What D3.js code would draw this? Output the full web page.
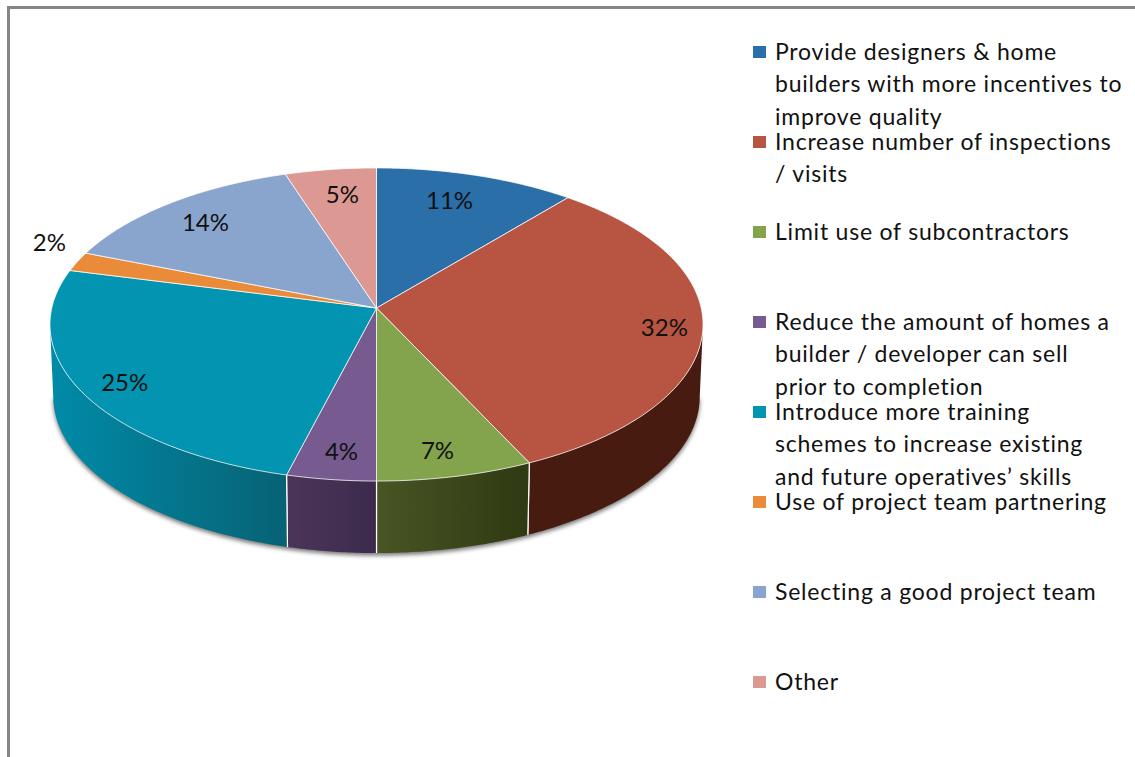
<!DOCTYPE html>
<html>
<head>
<meta charset="utf-8">
<script src="https://cdn.jsdelivr.net/npm/d3@7"></script>
<style>
  html, body { margin: 0; padding: 0; background: #fff; }
  svg { display: block; }
  text { font-family: Lato, "Open Sans", sans-serif; fill: #111; }
</style>
</head>
<body>
<svg id="chart" width="1135" height="757"></svg>
<script>
// Survey shares
const categories = [
  "Provide designers & home builders with more incentives to improve quality",
  "Increase number of inspections / visits",
  "Limit use of subcontractors",
  "Reduce the amount of homes a builder / developer can sell prior to completion",
  "Introduce more training schemes to increase existing and future operatives’ skills",
  "Use of project team partnering",
  "Selecting a good project team",
  "Other"
];
const shares = [11, 32, 7, 4, 25, 2, 14, 5];
const legendLines = [
  ["Provide designers & home", "builders with more incentives to", "improve quality"],
  ["Increase number of inspections", "/ visits"],
  ["Limit use of subcontractors"],
  ["Reduce the amount of homes a", "builder / developer can sell", "prior to completion"],
  ["Introduce more training", "schemes to increase existing", "and future operatives’ skills"],
  ["Use of project team partnering"],
  ["Selecting a good project team"],
  ["Other"]
];
const topColors = ["#2a6fa8", "#b85442", "#84a34d", "#775a8f", "#0294b0", "#e98b39", "#8aa5cd", "#dc9892"];
// Rim shading, left to right across each facet
const sideLeft  = ["#1d4e76", "#481b10", "#485524", "#4b3559", "#008ba8", "#a8622a", "#5f7a9f", "#a06e6a"];
const sideRight = ["#1d4e76", "#481b10", "#2f3912", "#3c2b4c", "#076275", "#a8622a", "#5f7a9f", "#a06e6a"];
// Percentage placement: fraction of the radius, and a small turn (degrees) off the slice's mid-angle
const labelRadius = [0.79, 0.884, 0.859, 0.853, 0.87, 1.142, 0.808, 0.80];
const labelTurn = [-1.9, 1.1, 1.1, -0.6, -1.4, 4.6, -0.6, 0.8];

const svg = d3.select("#chart");

// Tilted-disc projection: the far edge is foreshortened relative to the near edge
const hub = { x: 376.5, y: 308 };
const spreadX = 324.7, spreadY = 154.8, tilt = 0.1054;
const thickness = 72, baseShrink = 0.99;

function project(angle, r, drop = 0, shrink = 1) {
  const X = r * Math.sin(angle), Y = r * Math.cos(angle);
  const w = 1 + tilt * Y;
  return [hub.x + shrink * spreadX * X / w, hub.y + drop - spreadY * Y / w];
}
function arcPoints(a0, a1, drop = 0, shrink = 1) {
  const n = Math.max(2, Math.ceil(Math.abs(a1 - a0) / 0.01));
  return d3.range(n + 1).map(i => project(a0 + (a1 - a0) * i / n, 1, drop, shrink));
}

const slices = d3.pie().sort(null).value(d => d)(shares);
const pathLine = d3.line();

// Frame lines along the top and the left
svg.append("rect").attr("x", 7).attr("y", 6).attr("width", 1128).attr("height", 3).attr("fill", "#868686");
svg.append("rect").attr("x", 7).attr("y", 6).attr("width", 3).attr("height", 751).attr("fill", "#868686");

const defs = svg.append("defs");
const shadow = defs.append("filter").attr("id", "discShadow")
  .attr("x", "-5%").attr("y", "-5%").attr("width", "110%").attr("height", "115%");
shadow.append("feGaussianBlur").attr("stdDeviation", 2.2);

// The rim's silhouette runs between the two points where the projected edge is widest
const frontFrom = Math.acos(-tilt), frontTo = 2 * Math.PI - frontFrom;

// Soft shadow underneath the disc
svg.append("path")
  .attr("d", pathLine(arcPoints(frontFrom, frontTo, thickness, baseShrink).map(p => [p[0], p[1] + 2.5])) + "Z")
  .attr("fill", "#777")
  .attr("filter", "url(#discShadow)");

// Rim of the disc, one facet per slice on the near side
const rim = svg.append("g");
slices.forEach((s, i) => {
  const a0 = Math.max(s.startAngle, frontFrom), a1 = Math.min(s.endAngle, frontTo);
  if (a1 <= a0) return;
  const upper = arcPoints(a0, a1);
  const lower = arcPoints(a0, a1, thickness, baseShrink).reverse();
  const xs = d3.extent(upper.concat(lower), p => p[0]);
  const grad = defs.append("linearGradient").attr("id", "rim" + i)
    .attr("gradientUnits", "userSpaceOnUse")
    .attr("x1", xs[0]).attr("y1", 0)
    .attr("x2", xs[1]).attr("y2", 0);
  grad.append("stop").attr("offset", 0).attr("stop-color", sideLeft[i]);
  grad.append("stop").attr("offset", 1).attr("stop-color", sideRight[i]);
  rim.append("path")
    .attr("d", pathLine(upper.concat(lower)) + "Z")
    .attr("fill", `url(#rim${i})`);
  // White seam where two facets meet
  [s.startAngle, s.endAngle].forEach(a => {
    if (a > frontFrom && a < frontTo) {
      rim.append("path")
        .attr("d", pathLine([project(a, 1), project(a, 1, thickness, baseShrink)]))
        .attr("stroke", "#fff").attr("stroke-width", 1.2).attr("fill", "none");
    }
  });
});

// Top face of the disc
const face = svg.append("g");
slices.forEach((s, i) => {
  face.append("path")
    .attr("d", pathLine([[hub.x, hub.y]].concat(arcPoints(s.startAngle, s.endAngle))) + "Z")
    .attr("fill", topColors[i])
    .attr("stroke", "#fff").attr("stroke-opacity", 0.75).attr("stroke-width", 1)
    .attr("stroke-linejoin", "round");
});

// Percentage labels
const labelAt = (d, i) => project((d.startAngle + d.endAngle) / 2 + labelTurn[i] * Math.PI / 180, labelRadius[i]);
svg.append("g").selectAll("text").data(slices).join("text")
  .attr("x", (d, i) => labelAt(d, i)[0])
  .attr("y", (d, i) => labelAt(d, i)[1])
  .attr("text-anchor", "middle").attr("dy", "0.35em")
  .attr("font-size", 24)
  .text(d => d.value + "%");

// Legend: evenly spaced entries with wrapped text
const legendY = d3.scalePoint().domain(categories).range([52, 682]);
const lineStep = 32.3;
const legend = svg.append("g").selectAll("g").data(categories).join("g")
  .attr("transform", d => `translate(0,${legendY(d)})`);
legend.append("rect")
  .attr("x", 753).attr("y", -6).attr("width", 13).attr("height", 12)
  .attr("fill", (d, i) => topColors[i]);
legend.each(function (d, i) {
  d3.select(this).selectAll("text").data(legendLines[i]).join("text")
    .attr("x", 775)
    .attr("y", (l, j) => j * lineStep + 8)
    .attr("font-size", 23)
    .attr("letter-spacing", 0.78)
    .text(l => l);
});
</script>
</body>
</html>
